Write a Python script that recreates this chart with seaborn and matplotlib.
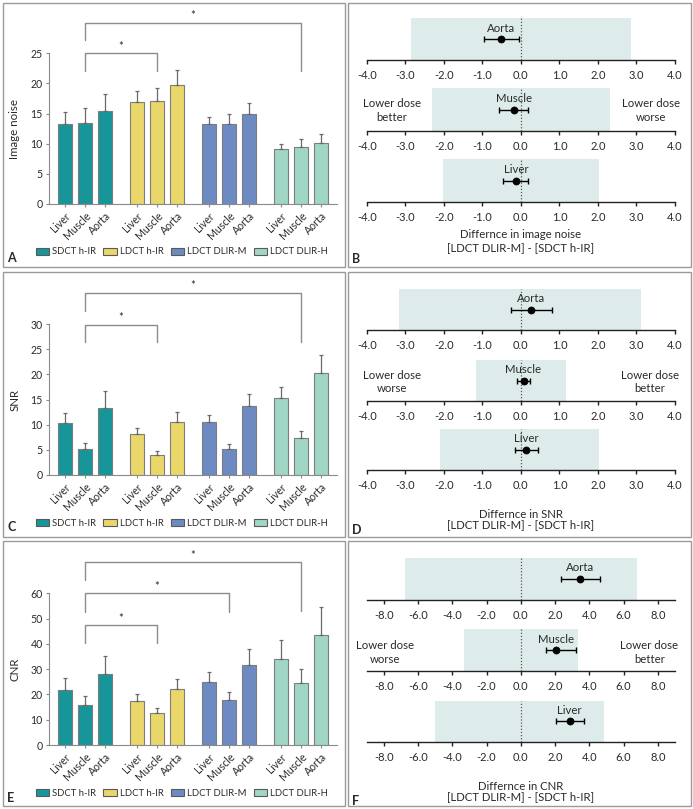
import numpy as np
import pandas as pd
import matplotlib
matplotlib.use('Agg')
import matplotlib.pyplot as plt
import seaborn as sns
from matplotlib.patches import Patch, Rectangle

# ---------------- data ----------------
protocols = ['SDCT h-IR', 'LDCT h-IR', 'LDCT DLIR-M', 'LDCT DLIR-H']
tissues = ['Liver', 'Muscle', 'Aorta']
colors = ['#17969a', '#e9d76a', '#6d8bc2', '#9fd6c6']

# order: protocol-major, tissue-minor (Liver, Muscle, Aorta)
noise_mean = [13.3, 13.5, 15.5, 17.0, 17.1, 19.8, 13.2, 13.3, 15.0, 9.2, 9.5, 10.2]
noise_sd = [2.0, 2.4, 2.8, 1.7, 2.1, 2.5, 1.2, 1.6, 1.8, 0.8, 1.3, 1.4]
snr_mean = [10.3, 5.2, 13.4, 8.1, 4.0, 10.5, 10.5, 5.2, 13.7, 15.2, 7.4, 20.3]
snr_sd = [2.1, 1.2, 3.2, 1.2, 0.7, 2.0, 1.5, 0.9, 2.3, 2.2, 1.4, 3.6]
cnr_mean = [21.6, 15.8, 28.2, 17.5, 12.6, 22.1, 24.8, 17.9, 31.7, 34.0, 24.6, 43.7]
cnr_sd = [4.9, 3.5, 6.9, 2.6, 2.0, 4.0, 4.1, 3.2, 6.3, 7.7, 5.6, 11.0]

# significance brackets: (bar index a, bar index b, top, leg a, leg b, star height)
noise_brackets = [(1, 4, 25.0, 22.0, 22.0, 26.65), (1, 10, 30.1, 27.2, 22.1, 31.7)]
snr_brackets = [(1, 4, 29.9, 26.4, 26.4, 31.8), (1, 10, 36.2, 32.6, 26.5, 38.3)]
cnr_brackets = [(1, 4, 47.5, 40.5, 40.5, 51.0), (1, 7, 60.0, 52.7, 52.7, 63.7),
                (1, 10, 72.5, 65.3, 53.1, 76.0)]

# Bland-Altman style differences, rows: Aorta, Muscle, Liver
forest_rows = ['Aorta', 'Muscle', 'Liver']
noise_diff_mean = [-0.51, -0.17, -0.13]
noise_diff_lo = [-0.95, -0.56, -0.46]
noise_diff_hi = [-0.06, 0.19, 0.19]
noise_loa_lo = [-2.85, -2.31, -2.01]
noise_loa_hi = [2.85, 2.31, 2.02]

snr_diff_mean = [0.27, 0.07, 0.14]
snr_diff_lo = [-0.25, -0.10, -0.14]
snr_diff_hi = [0.80, 0.25, 0.45]
snr_loa_lo = [-3.15, -1.16, -2.09]
snr_loa_hi = [3.13, 1.16, 2.04]

cnr_diff_mean = [3.45, 2.05, 2.85]
cnr_diff_lo = [2.34, 1.46, 2.03]
cnr_diff_hi = [4.60, 3.22, 3.67]
cnr_loa_lo = [-6.77, -3.32, -5.00]
cnr_loa_hi = [6.79, 3.34, 4.84]

noise_ticks = [-4.0, -3.0, -2.0, -1.0, 0.0, 1.0, 2.0, 3.0, 4.0]
snr_ticks = [-4.0, -3.0, -2.0, -1.0, 0.0, 1.0, 2.0, 3.0, 4.0]
cnr_ticks = [-8.0, -6.0, -4.0, -2.0, 0.0, 2.0, 4.0, 6.0, 8.0]

# ---------------- style ----------------
sns.set_theme(style='white')
plt.rcParams['font.family'] = ['Lato', 'DejaVu Sans']
TXT = '#2a2a2a'
GRID = '#8a8a8a'

W, H = 693, 809
fig = plt.figure(figsize=(W / 100, H / 100), dpi=100)


def px_axes(l, t, r, b):
    return fig.add_axes([l / W, 1 - b / H, (r - l) / W, (b - t) / H])


def box(l, t, r, b):
    fig.add_artist(Rectangle((l / W, 1 - b / H), (r - l) / W, (b - t) / H,
                             transform=fig.transFigure, fill=False,
                             ec='#9a9a9a', lw=1.0))


positions = [g * 3.6 + j for g in range(4) for j in range(3)]


def bar_panel(t, b, y0px, unitpx, mean, sd, ymax_tick, ystep, ylabel, brackets,
              letter, legend_y, letter_y):
    ax = px_axes(49, t, 337, b)
    ytop = (y0px - t) / unitpx
    df = pd.DataFrame({'pos': positions, 'value': mean,
                       'protocol': np.repeat(protocols, 3)})
    sns.barplot(data=df, x='pos', y='value', hue='protocol', hue_order=protocols,
                palette=colors, native_scale=True, dodge=False, width=0.67,
                errorbar=None, edgecolor='#7d7d7d', linewidth=0.8, saturation=1,
                legend=False, ax=ax)
    ax.errorbar(positions, mean, yerr=[np.zeros(len(sd)), sd], fmt='none',
                ecolor='#6a6a6a', elinewidth=0.9, capsize=1.6, capthick=0.9, zorder=4)
    ax.set_xlim(-0.8, 13.6)
    ax.set_ylim(0, ytop)
    ax.set_facecolor('none')
    for s in ['top', 'right']:
        ax.spines[s].set_visible(False)
    for s in ['left', 'bottom']:
        ax.spines[s].set_color(GRID)
        ax.spines[s].set_linewidth(0.8)
    ax.spines['left'].set_bounds(0, ymax_tick)
    ax.set_yticks(np.arange(0, ymax_tick + 0.1, ystep))
    ax.set_yticklabels([f'{int(v)}' for v in np.arange(0, ymax_tick + 0.1, ystep)],
                       fontsize=7.6, color=TXT)
    ax.set_xticks(positions)
    ax.set_xticklabels(tissues * 4, rotation=45, ha='right', va='top',
                       rotation_mode='anchor', fontsize=7.6, color=TXT)
    ax.tick_params(axis='both', which='both', bottom=True, left=True, length=2.5,
                   width=0.8, color=GRID, pad=2)
    ax.set_xlabel('')
    ax.set_ylabel('')
    for (a, bb, top, la, lb, sy) in brackets:
        xa, xb = positions[a], positions[bb]
        ax.plot([xa, xa, xb, xb], [la, top, top, lb], color='#8c8c8c', lw=1.0,
                clip_on=False, zorder=5)
        ax.annotate('*', xy=((xa + xb) / 2, sy), xytext=(0, -4.6),
                    textcoords='offset points', ha='center', va='baseline',
                    fontsize=8, color=TXT, annotation_clip=False)
    fig.text(15 / W, 1 - ((y0px + y0px - ymax_tick * unitpx) / 2) / H, ylabel,
             rotation=90, ha='center', va='center', fontsize=8.3, color=TXT)
    handles = [Patch(facecolor=c, edgecolor='#5a5a5a', lw=0.8) for c in colors]
    fig.legend(handles, protocols, ncol=4, loc='center',
               bbox_to_anchor=(182 / W, 1 - legend_y / H), frameon=False,
               fontsize=6.8, handlelength=1.4, handleheight=0.8,
               handletextpad=0.35, columnspacing=0.75, labelcolor=TXT,
               borderaxespad=0, borderpad=0)
    fig.text(7 / W, 1 - letter_y / H, letter, fontsize=9, fontweight='bold',
             ha='left', va='center', color=TXT)
    return ax


box(3, 3, 345, 267)
box(348, 3, 691, 267)
box(3, 272, 345, 537)
box(348, 272, 691, 537)
box(3, 541, 345, 806)
box(348, 541, 691, 806)

bar_panel(10, 204, 204, 6.028, noise_mean, noise_sd, 25, 5, 'Image noise',
          noise_brackets, 'A', 252, 258)
bar_panel(279, 475, 475, 5.033, snr_mean, snr_sd, 30, 5, 'SNR',
          snr_brackets, 'C', 523, 527)
bar_panel(548, 745, 745, 2.528, cnr_mean, cnr_sd, 60, 10, 'CNR',
          cnr_brackets, 'E', 793, 798)


def forest_panel(axis_y, tops, means, los, his, blo, bhi, xlim, ticks,
                 left_text, right_text, text_x, text_y, xl1, xl1_y, xl2_y, letter, letter_y):
    for i, row in enumerate(forest_rows):
        ax = px_axes(366.7, tops[i], 675, axis_y[i])
        ax.set_facecolor('none')
        ax.axvspan(blo[i], bhi[i], color='#ddeceb', lw=0, zorder=0)
        ax.axvline(0, color='#555555', ls=(0, (1, 1.5)), lw=0.9, zorder=1)
        ax.errorbar([means[i]], [0.5], xerr=[[means[i] - los[i]], [his[i] - means[i]]],
                    fmt='none', ecolor='black', elinewidth=1.0, capsize=2.3,
                    capthick=1.0, zorder=3)
        sns.scatterplot(x=[means[i]], y=[0.5], color='black', s=26, edgecolor='black',
                        linewidth=0.5, zorder=4, legend=False, ax=ax)
        ax.text(means[i], 0.76, row, ha='center', va='center', fontsize=8.2, color=TXT)
        ax.set_xlim(*xlim)
        ax.set_ylim(0, 1)
        for s in ['top', 'right', 'left']:
            ax.spines[s].set_visible(False)
        ax.spines['bottom'].set_color('#222222')
        ax.spines['bottom'].set_linewidth(1.0)
        ax.set_yticks([])
        ax.set_xticks(ticks)
        ax.set_xticklabels([f'{v:.1f}' for v in ticks], fontsize=8, color=TXT)
        ax.tick_params(axis='x', bottom=True, length=3.2, width=1.0, color='#222222', pad=4)
        ax.set_xlabel('')
        ax.set_ylabel('')
        if i == 1:
            ax.text(-text_x[0], text_y, left_text, ha='center', va='center',
                    fontsize=8.2, color=TXT, linespacing=1.3)
            ax.text(text_x[1], text_y, right_text, ha='center', va='center',
                    fontsize=8.2, color=TXT, linespacing=1.3)
    fig.text(521 / W, 1 - xl1_y / H, xl1, ha='center', va='center', fontsize=8.2, color=TXT)
    fig.text(521 / W, 1 - xl2_y / H, '[LDCT DLIR-M] - [SDCT h-IR]', ha='center',
             va='center', fontsize=8.2, color=TXT)
    fig.text(352 / W, 1 - letter_y / H, letter, fontsize=9, fontweight='bold',
             ha='left', va='center', color=TXT)


forest_panel([60, 131, 202], [18, 88, 159], noise_diff_mean, noise_diff_lo, noise_diff_hi,
             noise_loa_lo, noise_loa_hi, (-4, 4), noise_ticks,
             'Lower dose\nbetter', 'Lower dose\nworse', (3.34, 3.37), 0.47,
             'Differnce in image noise', 235, 248, 'B', 259)
forest_panel([330, 401, 470], [289, 360, 429], snr_diff_mean, snr_diff_lo, snr_diff_hi,
             snr_loa_lo, snr_loa_hi, (-4, 4), snr_ticks,
             'Lower dose\nworse', 'Lower dose\nbetter', (3.35, 3.34), 0.46,
             'Differnce in SNR', 514, 525, 'D', 530)
forest_panel([600, 670.7, 741.7], [557.7, 629, 700.7], cnr_diff_mean, cnr_diff_lo, cnr_diff_hi,
             cnr_loa_lo, cnr_loa_hi, (-9, 9), cnr_ticks,
             'Lower dose\nworse', 'Lower dose\nbetter', (7.95, 7.5), 0.44,
             'Differnce in CNR', 786, 797, 'F', 801)

fig.savefig('out.png', dpi=100)
